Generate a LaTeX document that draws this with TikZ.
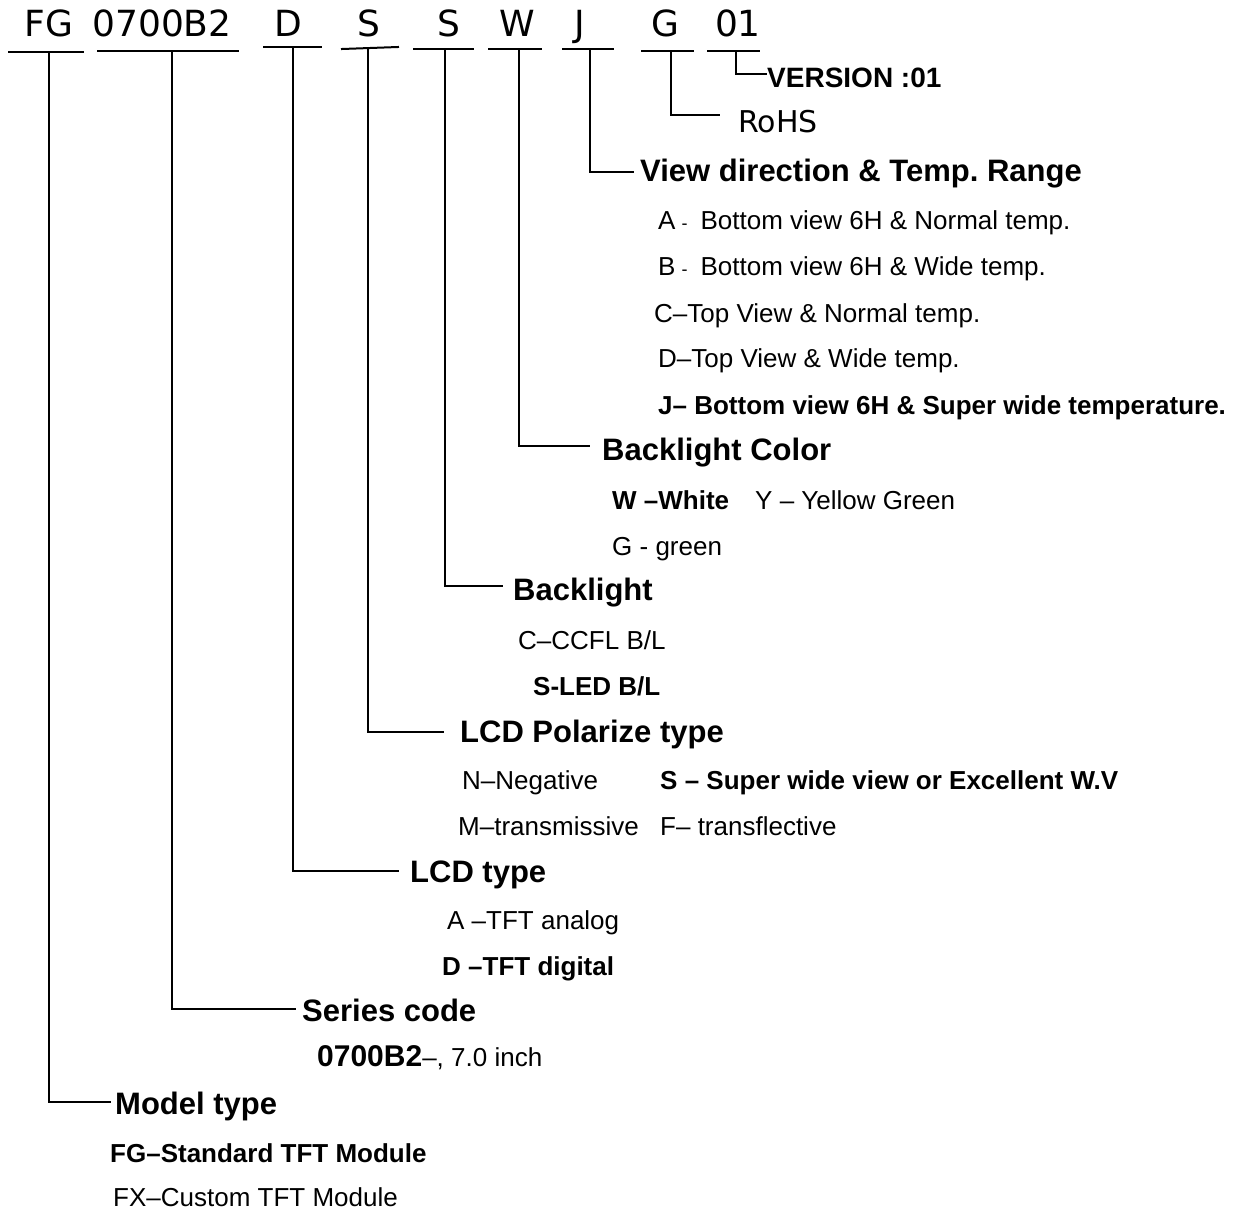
\documentclass[tikz,border=0pt]{standalone}
\usepackage{fontspec}
\setmainfont{Liberation Sans}
\newfontfamily\hdrfont{DejaVu Sans}
\frenchspacing
\newcommand{\smdash}{\hspace{6pt}{\fontsize{18}{20}\selectfont -}\hspace{13pt}}
\begin{document}
\begin{tikzpicture}[x=1pt,y=-1pt,
  ln/.style={line width=2pt,line cap=rect},
  code/.style={font=\hdrfont\fontsize{36}{40}\selectfont,anchor=base,inner sep=0pt},
  ttl/.style={font=\fontsize{31}{35}\selectfont\bfseries,anchor=west,inner sep=0pt,text height=22.2pt,text depth=0pt},
  opt/.style={font=\fontsize{26}{30}\selectfont,anchor=west,inner sep=0pt,text height=18.6pt,text depth=0pt},
  optb/.style={font=\fontsize{26}{30}\selectfont\bfseries,anchor=west,inner sep=0pt,text height=18.6pt,text depth=0pt}]
\useasboundingbox (0,0) rectangle (1237,1211);
% header code letters
\node[code] (cFG) at (49,36) {FG};
\node[code] (cSer) at (162,36) {0700B2};
\node[code] (cD) at (288,36) {D};
\node[code] (cS1) at (369,36) {S};
\node[code] (cS2) at (449,36) {S};
\node[code] (cW) at (517,36) {W};
\node[code] (cJ) at (580,36) {J};
\node[code] (cG) at (665,36) {G};
\node[code] (cV) at (738,36) {01};
% underlines
\coordinate (uFGl) at (9,52);   \coordinate (uFGr) at (83,52);   \coordinate (uFG) at (49,52);
\coordinate (uSerl) at (98,51); \coordinate (uSerr) at (238,51); \coordinate (uSer) at (172,51);
\coordinate (uDl) at (264,47);  \coordinate (uDr) at (321,47);   \coordinate (uD) at (293,47);
\coordinate (uS1l) at (342,49); \coordinate (uS1r) at (398,47);  \coordinate (uS1) at (368,48);
\coordinate (uS2l) at (414,49); \coordinate (uS2r) at (473,49);  \coordinate (uS2) at (445,49);
\coordinate (uWl) at (489,49);  \coordinate (uWr) at (541,49);   \coordinate (uW) at (519,49);
\coordinate (uJl) at (563,49);  \coordinate (uJr) at (613,49);   \coordinate (uJ) at (590,49);
\coordinate (uGl) at (642,51);  \coordinate (uGr) at (693,51);   \coordinate (uG) at (671,51);
\coordinate (uVl) at (708,51);  \coordinate (uVr) at (759,51);   \coordinate (uV) at (736,51);
\foreach \k in {FG,Ser,D,S1,S2,W,J,G,V} {\draw[ln] (u\k l) -- (u\k r);}
% titles
\node[font=\fontsize{28}{32}\selectfont\bfseries,anchor=west,inner sep=0pt,text height=20pt,text depth=0pt] (tV) at (767,77) {VERSION :01};
\node[font=\hdrfont\fontsize{30}{34}\selectfont,anchor=west,inner sep=0pt,text height=21.9pt,text depth=0pt] (tG) at (738,122) {RoHS};
\node[ttl] (tJ) at (640,170) {View direction \& Temp. Range};
\node[ttl] (tW) at (602,449) {Backlight Color};
\node[ttl] (tS2) at (513,589) {Backlight};
\node[ttl] (tS1) at (460,731) {LCD Polarize type};
\node[ttl] (tD) at (410,871) {LCD type};
\node[ttl] (tSer) at (302,1010) {Series code};
\node[ttl] (tFG) at (115,1103) {Model type};
% connector ends
\coordinate (eV) at (766,74);
\coordinate (eG) at (719,115);
\coordinate (eJ) at (633,172);
\coordinate (eW) at (589,446);
\coordinate (eS2) at (502,586);
\coordinate (eS1) at (443,732);
\coordinate (eD) at (398,871);
\coordinate (eSer) at (295,1009);
\coordinate (eFG) at (110,1102);
\foreach \k in {FG,Ser,D,S1,S2,W,J,G,V} {\draw[ln] (u\k) |- (e\k);}
% options
\node[opt] (oJa) at (658,220) {A\smdash Bottom view 6H \& Normal temp.};
\node[opt] (oJb) at (658,266) {B\smdash Bottom view 6H \& Wide temp.};
\node[opt] (oJc) at (654,313) {C--Top View \& Normal temp.};
\node[opt] (oJd) at (658,358) {D--Top View \& Wide temp.};
\node[optb] (oJj) at (658,405) {J-- Bottom view 6H \& Super wide temperature.};
\node[optb] (oWw) at (612,500) {W --White};
\node[opt] (oWy) at (755,500) {Y -- Yellow Green};
\node[opt] (oWg) at (612,546) {G - green};
\node[opt] (oS2c) at (518,640) {C--CCFL B/L};
\node[optb] (oS2s) at (533,686) {S-LED B/L};
\node[opt] (oS1n) at (462,780) {N--Negative};
\node[optb] (oS1s) at (660,780) {S -- Super wide view or Excellent W.V};
\node[opt] (oS1m) at (458,826) {M--transmissive};
\node[opt] (oS1f) at (660,826) {F-- transflective};
\node[opt] (oDa) at (447,920) {A --TFT analog};
\node[optb] (oDd) at (442,966) {D --TFT digital};
\node[opt] (oSer) at (317,1057) {{\fontsize{30}{34}\selectfont\bfseries 0700B2}--, 7.0 inch};
\node[optb] (oFGs) at (110,1153) {FG--Standard TFT Module};
\node[opt] (oFGx) at (113,1197) {FX--Custom TFT Module};
\end{tikzpicture}
\end{document}
